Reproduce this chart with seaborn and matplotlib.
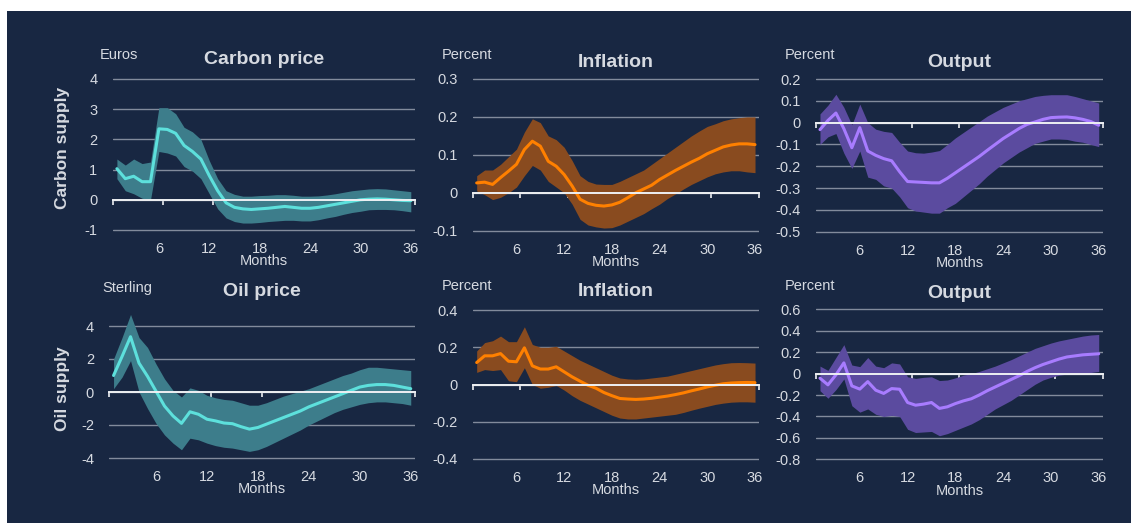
#importing libraries
import seaborn as sns
import matplotlib.pyplot as plt
from matplotlib.patches import Rectangle

navy = '#182742'
txt = '#d6dae1'

sns.set_theme(style='white', rc={'axes.facecolor': navy, 'figure.facecolor': 'white',
                                 'axes.unicode_minus': False})
plt.rcParams['font.family'] = ['Liberation Sans', 'DejaVu Sans']

months = list(range(1, 37))

# carbon supply shock: carbon price (euros)
carbon_price_mid = [1.03, 0.7, 0.78, 0.6, 0.6, 2.35, 2.33, 2.2, 1.8, 1.6, 1.35, 0.8, 0.3, -0.1, -0.25, -0.3,
                    -0.32, -0.3, -0.28, -0.25, -0.22, -0.25, -0.28, -0.28, -0.25, -0.2, -0.15, -0.1, -0.05, 0.0,
                    0.02, 0.03, 0.02, 0.0, -0.02, -0.03]
carbon_price_hi = [1.35, 1.15, 1.35, 1.2, 1.25, 3.05, 3.05, 2.85, 2.4, 2.25, 2.0, 1.3, 0.7, 0.3, 0.18, 0.12,
                   0.12, 0.14, 0.15, 0.17, 0.17, 0.15, 0.12, 0.12, 0.13, 0.16, 0.2, 0.25, 0.3, 0.33,
                   0.36, 0.37, 0.36, 0.33, 0.3, 0.27]
carbon_price_lo = [0.7, 0.3, 0.2, 0.05, 0.0, 1.6, 1.55, 1.45, 1.1, 0.95, 0.7, 0.2, -0.3, -0.6, -0.72, -0.77,
                   -0.77, -0.75, -0.72, -0.7, -0.68, -0.68, -0.7, -0.7, -0.66, -0.6, -0.55, -0.48, -0.42, -0.38,
                   -0.33, -0.32, -0.32, -0.33, -0.36, -0.4]

# carbon supply shock: inflation (percent)
carbon_infl_mid = [0.026, 0.028, 0.022, 0.04, 0.057, 0.075, 0.114, 0.136, 0.123, 0.083, 0.07, 0.048, 0.018,
                   -0.017, -0.028, -0.033, -0.035, -0.032, -0.025, -0.013, 0.0, 0.01, 0.02, 0.035, 0.047, 0.059,
                   0.07, 0.081, 0.091, 0.103, 0.112, 0.121, 0.126, 0.129, 0.129, 0.127]
carbon_infl_hi = [0.045, 0.06, 0.06, 0.075, 0.095, 0.115, 0.16, 0.195, 0.185, 0.15, 0.14, 0.12, 0.085, 0.045,
                  0.03, 0.023, 0.022, 0.022, 0.03, 0.04, 0.05, 0.06, 0.075, 0.09, 0.105, 0.12, 0.135, 0.15,
                  0.163, 0.175, 0.182, 0.19, 0.195, 0.198, 0.2, 0.2]
carbon_infl_lo = [0.005, -0.005, -0.018, -0.012, 0.0, 0.015, 0.045, 0.072, 0.06, 0.03, 0.015, 0.0, -0.03, -0.07,
                  -0.085, -0.09, -0.093, -0.092, -0.085, -0.075, -0.065, -0.055, -0.042, -0.03, -0.015, -0.003,
                  0.01, 0.022, 0.032, 0.042, 0.05, 0.055, 0.058, 0.058, 0.055, 0.053]

# carbon supply shock: output (percent)
carbon_out_mid = [-0.032, 0.01, 0.044, -0.028, -0.115, -0.023, -0.13, -0.15, -0.165, -0.175, -0.225, -0.27,
                  -0.272, -0.274, -0.276, -0.276, -0.255, -0.23, -0.205, -0.18, -0.155, -0.127, -0.1, -0.073,
                  -0.05, -0.027, -0.008, 0.003, 0.015, 0.023, 0.025, 0.026, 0.022, 0.015, 0.005, -0.012]
carbon_out_hi = [0.04, 0.08, 0.13, 0.07, -0.01, 0.085, 0.0, -0.03, -0.04, -0.045, -0.09, -0.13, -0.138, -0.14,
                 -0.135, -0.128, -0.1, -0.07, -0.045, -0.02, 0.005, 0.03, 0.05, 0.07, 0.085, 0.1, 0.11, 0.12,
                 0.125, 0.128, 0.128, 0.128, 0.12, 0.11, 0.1, 0.09]
carbon_out_lo = [-0.1, -0.065, -0.05, -0.14, -0.21, -0.13, -0.25, -0.26, -0.29, -0.3, -0.34, -0.39, -0.405,
                 -0.41, -0.415, -0.415, -0.39, -0.37, -0.34, -0.31, -0.28, -0.245, -0.215, -0.185, -0.16,
                 -0.135, -0.115, -0.095, -0.085, -0.075, -0.075, -0.077, -0.085, -0.09, -0.1, -0.11]

# oil supply shock: oil price (sterling)
oil_price_mid = [1.0, 2.15, 3.35, 1.75, 0.95, 0.05, -0.85, -1.45, -1.9, -1.2, -1.35, -1.65, -1.75, -1.88,
                 -1.92, -2.1, -2.25, -2.15, -1.95, -1.75, -1.55, -1.35, -1.15, -0.9, -0.7, -0.5, -0.3, -0.1,
                 0.1, 0.3, 0.4, 0.45, 0.45, 0.4, 0.3, 0.2]
oil_price_hi = [2.0, 3.3, 4.7, 3.3, 2.7, 1.7, 0.8, 0.1, -0.3, 0.25, 0.1, -0.2, -0.35, -0.45, -0.5, -0.65,
                -0.8, -0.8, -0.65, -0.45, -0.25, -0.1, 0.05, 0.2, 0.4, 0.6, 0.8, 1.0, 1.15, 1.35, 1.5, 1.5,
                1.45, 1.4, 1.35, 1.3]
oil_price_lo = [0.2, 0.9, 1.9, 0.0, -1.0, -1.9, -2.6, -3.1, -3.5, -2.8, -2.9, -3.1, -3.25, -3.35, -3.4, -3.5,
                -3.6, -3.5, -3.3, -3.05, -2.8, -2.55, -2.3, -2.0, -1.75, -1.5, -1.25, -1.05, -0.9, -0.75,
                -0.65, -0.6, -0.6, -0.65, -0.7, -0.8]

# oil supply shock: inflation (percent)
oil_infl_mid = [0.118, 0.154, 0.154, 0.166, 0.125, 0.122, 0.197, 0.1, 0.083, 0.083, 0.095, 0.068, 0.041,
                0.018, -0.004, -0.02, -0.043, -0.06, -0.075, -0.078, -0.08, -0.078, -0.074, -0.068, -0.062,
                -0.054, -0.045, -0.034, -0.024, -0.013, -0.004, 0.004, 0.008, 0.01, 0.011, 0.01]
oil_infl_hi = [0.18, 0.225, 0.235, 0.26, 0.23, 0.23, 0.31, 0.215, 0.2, 0.2, 0.205, 0.18, 0.155, 0.13, 0.11,
               0.09, 0.07, 0.05, 0.035, 0.03, 0.028, 0.03, 0.035, 0.04, 0.045, 0.055, 0.065, 0.075, 0.085,
               0.095, 0.105, 0.112, 0.117, 0.118, 0.117, 0.115]
oil_infl_lo = [0.065, 0.08, 0.075, 0.08, 0.02, 0.015, 0.09, 0.0, -0.02, -0.015, -0.005, -0.03, -0.06, -0.085,
               -0.105, -0.125, -0.145, -0.165, -0.18, -0.185, -0.185, -0.18, -0.175, -0.17, -0.165, -0.16,
               -0.15, -0.138, -0.127, -0.117, -0.107, -0.1, -0.095, -0.093, -0.093, -0.095]

# oil supply shock: output (percent)
oil_out_mid = [-0.043, -0.105, -0.012, 0.1, -0.115, -0.145, -0.075, -0.155, -0.185, -0.14, -0.146, -0.27,
               -0.295, -0.285, -0.27, -0.325, -0.31, -0.28, -0.255, -0.235, -0.2, -0.16, -0.125, -0.09, -0.055,
               -0.02, 0.02, 0.055, 0.085, 0.11, 0.135, 0.155, 0.165, 0.175, 0.18, 0.185]
oil_out_hi = [0.07, 0.03, 0.15, 0.27, 0.08, 0.065, 0.15, 0.07, 0.055, 0.1, 0.09, -0.03, -0.045, -0.035, -0.03,
              -0.065, -0.06, -0.04, -0.015, 0.0, 0.02, 0.045, 0.07, 0.1, 0.13, 0.165, 0.2, 0.235, 0.26, 0.285,
              0.305, 0.32, 0.335, 0.35, 0.36, 0.365]
oil_out_lo = [-0.16, -0.23, -0.15, -0.05, -0.3, -0.36, -0.33, -0.38, -0.4, -0.39, -0.4, -0.52, -0.55, -0.545,
              -0.54, -0.58, -0.56, -0.53, -0.5, -0.47, -0.43, -0.38, -0.33, -0.29, -0.25, -0.2, -0.15, -0.1,
              -0.06, -0.035, -0.015, -0.005, 0.0, 0.005, 0.01, 0.02]

teal = ('#5de0dc', '#3d7d8b')
orange = ('#ff8000', '#894b1f')
purple = ('#a87cff', '#5b4b9f')

W, H = 1131, 523
fig = plt.figure(figsize=(W / 100, H / 100), dpi=100)
fig.patches.append(Rectangle((7 / W, 0), 1, 1 - 11 / H, transform=fig.transFigure,
                             facecolor=navy, edgecolor='none', zorder=-10))

# series, colours, title, unit, yticks, ylim, left px, right px, top tick px, bottom tick px, title y, unit y, unit x
panels = [
    (carbon_price_mid, carbon_price_lo, carbon_price_hi, teal, 'Carbon price', 'Euros',
     [-1, 0, 1, 2, 3, 4], (-1.08, 4.08), 112.7, 415, 79, 230, 60, 55, 100),
    (carbon_infl_mid, carbon_infl_lo, carbon_infl_hi, orange, 'Inflation', 'Percent',
     [-0.1, 0, 0.1, 0.2, 0.3], (-0.108, 0.308), 472.7, 759, 79, 230.7, 62, 55, 442),
    (carbon_out_mid, carbon_out_lo, carbon_out_hi, purple, 'Output', 'Percent',
     [-0.5, -0.4, -0.3, -0.2, -0.1, 0, 0.1, 0.2], (-0.515, 0.215), 816, 1102.7, 79, 231.7, 62, 55, 785),
    (oil_price_mid, oil_price_lo, oil_price_hi, teal, 'Oil price', 'Sterling',
     [-4, -2, 0, 2, 4], (-4.2, 4.9), 109.3, 415, 326, 458, 292, 288, 102),
    (oil_infl_mid, oil_infl_lo, oil_infl_hi, orange, 'Inflation', 'Percent',
     [-0.4, -0.2, 0, 0.2, 0.4], (-0.42, 0.42), 472.7, 759, 310, 459, 292, 286, 442),
    (oil_out_mid, oil_out_lo, oil_out_hi, purple, 'Output', 'Percent',
     [-0.8, -0.6, -0.4, -0.2, 0, 0.2, 0.4, 0.6], (-0.83, 0.63), 816, 1102.7, 309.3, 459.3, 293, 286, 785),
]

for mid, lo, hi, cols, title, unit, yt, ylim, lpx, rpx, tpx, bpx, ty, uy, ux in panels:
    scale = (bpx - tpx) / (yt[-1] - yt[0])
    top = tpx - (ylim[1] - yt[-1]) * scale
    bot = bpx + (yt[0] - ylim[0]) * scale
    ax = fig.add_axes([lpx / W, 1 - bot / H, (rpx - lpx) / W, (bot - top) / H])
    ax.set_facecolor('none')

    ax.fill_between(months, lo, hi, color=cols[1], lw=0, zorder=2)
    sns.lineplot(x=months, y=mid, ax=ax, color=cols[0], lw=2.2, zorder=3)

    ax.set_xlim(0.5, 36.5)
    ax.set_ylim(*ylim)
    ax.set_yticks(yt)
    ax.set_yticklabels([f'{v:g}' for v in yt])
    ax.grid(axis='y', color='#828b9c', lw=1)
    ax.set_axisbelow(True)
    ax.tick_params(axis='y', length=0, pad=11, labelsize=10.5, labelcolor=txt)

    # zero line with month marks
    for s in ['top', 'right', 'left']:
        ax.spines[s].set_visible(False)
    ax.spines['bottom'].set_position(('data', 0))
    ax.spines['bottom'].set_color('#eef0f3')
    ax.spines['bottom'].set_linewidth(1.4)
    ax.spines['bottom'].set_zorder(4)
    ax.set_xticks([0.5 + 6 * k for k in range(7)])
    ax.tick_params(axis='x', bottom=True, direction='out', length=3.5, width=1.2,
                   color='#eef0f3', labelbottom=False)

    loc = (yt[0] - ylim[0]) / (ylim[1] - ylim[0])
    sec = ax.secondary_xaxis(loc)
    sec.set_xticks([6, 12, 18, 24, 30, 36])
    sec.spines['bottom'].set_visible(False)
    sec.tick_params(length=0, pad=8.5, labelsize=10.5, labelcolor=txt)
    sec.set_xlabel('Months', fontsize=10.5, color=txt, labelpad=-1)

    fig.text((lpx + rpx) / 2 / W, 1 - ty / H, title, ha='center', va='center',
             fontsize=14, fontweight='bold', color=txt)
    fig.text(ux / W, 1 - uy / H, unit, ha='left', va='center', fontsize=10.5, color=txt)

fig.text(63 / W, 1 - 147.5 / H, 'Carbon supply', rotation=90, ha='center', va='center',
         fontsize=12.5, fontweight='bold', color=txt)
fig.text(63 / W, 1 - 389 / H, 'Oil supply', rotation=90, ha='center', va='center',
         fontsize=12.5, fontweight='bold', color=txt)

plt.savefig('out.png', dpi=100, facecolor='white')
